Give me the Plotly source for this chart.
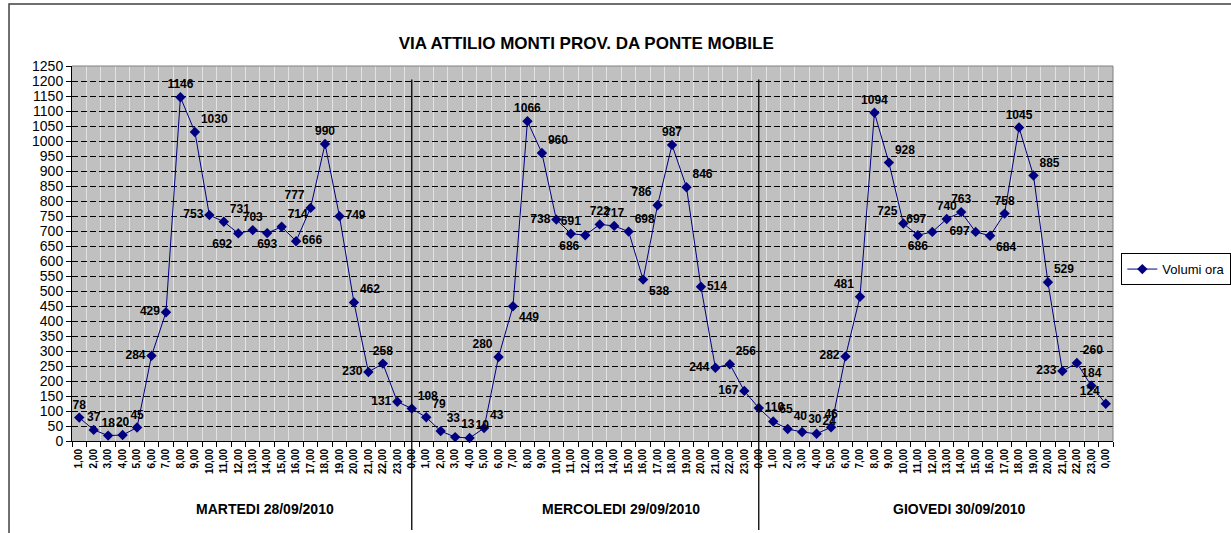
import plotly.graph_objects as go

# ---------------- data ----------------
hour_labels = ["1,00", "2,00", "3,00", "4,00", "5,00", "6,00", "7,00", "8,00", "9,00", "10,00",
               "11,00", "12,00", "13,00", "14,00", "15,00", "16,00", "17,00", "18,00", "19,00",
               "20,00", "21,00", "22,00", "23,00", "0,00"]
days = ["MARTEDI 28/09/2010", "MERCOLEDI 29/09/2010", "GIOVEDI 30/09/2010"]

martedi = [78, 37, 18, 20, 45, 284, 429, 1146, 1030, 753, 731, 692, 703, 693, 714, 666,
           777, 990, 749, 462, 230, 258, 131, 108]
mercoledi = [79, 33, 13, 10, 43, 280, 449, 1066, 960, 738, 691, 686, 722, 717, 698, 538,
             786, 987, 846, 514, 244, 256, 167, 110]
giovedi = [65, 40, 30, 24, 46, 282, 481, 1094, 928, 725, 686, 697, 740, 763, 697, 684,
           758, 1045, 885, 529, 233, 260, 184, 124]
series_name = "Volumi ora"
title_text = "VIA ATTILIO MONTI PROV. DA PONTE MOBILE"

# ---------------- styling ----------------
label_pos = (
    ["top center", "top center", "top center", "top center", "top center", "middle left",
     "middle left", "top center", "top right", "middle left", "top right", "bottom left",
     "top center", "bottom center", "top right", "middle right", "top left", "top center",
     "middle right", "top right", "middle left", "top center", "middle left", "top right"]
    + ["top right", "top right", "top right", "top right", "top right", "top left",
       "bottom right", "top center", "top right", "middle left", "top center", "bottom left",
       "top center", "top center", "top right", "bottom right", "top left", "top center",
       "top right", "middle right", "middle left", "top right", "middle left", "middle right"]
    + ["top right", "top right", "top right", "top right", "top center", "middle left",
       "top left", "top center", "top right", "top left", "bottom center", "top left",
       "top center", "top center", "middle left", "bottom right", "top center", "top center",
       "top right", "top right", "middle left", "top right", "top center", "top left"]
)
day_label_x = [12.85, 37.5, 60.9]   # annotation centers in axis units

FONT = "Liberation Sans, Arial, sans-serif"
NAVY = "#000080"

values = martedi + mercoledi + giovedi
ticktext = hour_labels * len(days)
xs = list(range(len(values)))
n_per_day = len(hour_labels)

fig = go.Figure()
fig.add_trace(go.Scatter(
    x=xs, y=values, mode="lines+markers+text", name=series_name,
    line=dict(color=NAVY, width=1),
    marker=dict(symbol="diamond", size=8, color=NAVY),
    text=[str(v) for v in values], textposition=label_pos,
    textfont=dict(family=FONT, size=12, color="black", weight="bold"),
    cliponaxis=False,
))

shapes = []
# day dividers at the last point of each day (0,00)
for d in range(1, len(days)):
    xi = d * n_per_day - 1
    shapes.append(dict(type="line", xref="x", yref="paper", x0=xi, x1=xi,
                       y0=-0.237, y1=1205 / 1250, line=dict(color="black", width=1.3),
                       layer="above"))
# plot-area border (top/right, grey)
shapes.append(dict(type="line", xref="paper", yref="paper", x0=0, x1=1, y0=1, y1=1,
                   line=dict(color="#808080", width=1), layer="above"))
shapes.append(dict(type="line", xref="paper", yref="paper", x0=1, x1=1, y0=0, y1=1,
                   line=dict(color="#808080", width=1), layer="above"))
# outer chart border
shapes.append(dict(type="rect", xref="paper", yref="paper", x0=-0.0605, x1=1.2,
                   y0=-0.27, y1=1.1653, line=dict(color="#404040", width=1.5),
                   fillcolor="rgba(0,0,0,0)", layer="above"))

annotations = []
for name, xc in zip(days, day_label_x):
    annotations.append(dict(text=name, x=xc, xref="x", y=-0.1813, yref="paper",
                            showarrow=False, xanchor="center", yanchor="middle",
                            font=dict(family=FONT, size=14, color="black", weight="bold")))

fig.update_layout(
    width=1231, height=533,
    margin=dict(l=72, r=118, t=66, b=92, autoexpand=False),
    paper_bgcolor="white", plot_bgcolor="#C0C0C0",
    font=dict(family=FONT, color="black"),
    title=dict(text=title_text, x=0.494, xref="paper", xanchor="center",
               y=1 - 43 / 533, yref="container", yanchor="middle",
               font=dict(family=FONT, size=17, color="black", weight="bold")),
    showlegend=True,
    legend=dict(x=1.008, y=0.501, xanchor="left", yanchor="top",
                bgcolor="white", bordercolor="black", borderwidth=1,
                font=dict(family=FONT, size=13, color="black"),
                itemwidth=30, tracegroupgap=0),
    shapes=shapes, annotations=annotations,
)

fig.update_xaxes(
    range=[-0.5, len(values) - 0.5], tickmode="array", tickvals=xs, ticktext=ticktext,
    tickangle=-90, ticks="", showgrid=False, zeroline=False,
    showline=True, linecolor="black", linewidth=1,
    tickfont=dict(family=FONT, size=10, color="black", weight="bold"),
    ticklabelstandoff=3,
    minor=dict(tickmode="array", tickvals=[i - 0.5 for i in range(len(values) + 1)],
               ticks="outside", ticklen=5, tickcolor="black", tickwidth=1,
               showgrid=True, gridcolor="#E2E2E2", gridwidth=1),
)
fig.update_yaxes(
    range=[0, 1250], tickmode="linear", tick0=0, dtick=50,
    ticks="outside", ticklen=5, tickcolor="black",
    showgrid=True, gridcolor="black", gridwidth=1, griddash="6px,3px",
    zeroline=False, showline=True, linecolor="black", linewidth=1,
    tickfont=dict(family=FONT, size=14, color="black"),
)

fig.write_html("out.html", config={"displayModeBar": False},
               post_script="document.body.style.margin='0';")
